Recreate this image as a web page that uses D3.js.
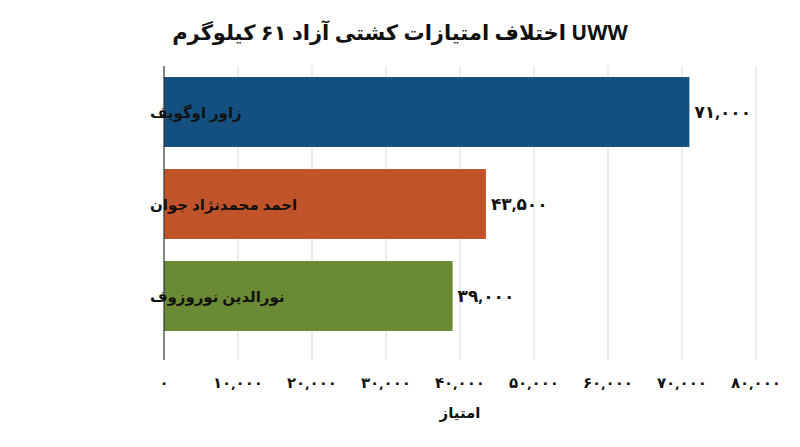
<!DOCTYPE html><html><head><meta charset="utf-8"><script src="https://cdn.jsdelivr.net/npm/d3@7"></script>
<style>body{margin:0;background:#fff}text{font-family:"Noto Sans","DejaVu Sans",sans-serif}</style></head><body><svg id="c" width="800" height="447"></svg>
<script>
const categories=["زاور اوگویف","احمد محمدنژاد جوان","نورالدین نوروزوف"];
const values=[71000,43500,39000];
const colors=["#13507f","#c0532a","#6a8a35"];
const ticks=[0,10000,20000,30000,40000,50000,60000,70000,80000];
const fa=s=>s.replace(/\d/g,d=>"۰۱۲۳۴۵۶۷۸۹"[d]);
const fmt=v=>fa(d3.format(",")(v));
const svg=d3.select("#c");
const x=d3.scaleLinear().domain([0,80000]).range([164,756]);
const y=d3.scaleBand().domain(categories).range([66,342]).paddingInner(0.24).paddingOuter(0.12);
svg.append("text").attr("x",400).attr("y",40).attr("text-anchor","middle").attr("font-size",21).attr("font-weight","bold").attr("fill","#111").text("اختلاف امتیازات کشتی آزاد ۶۱ کیلوگرم UWW");
svg.selectAll(".g").data(ticks.slice(1)).enter().append("line").attr("x1",d=>x(d)).attr("x2",d=>x(d)).attr("y1",66).attr("y2",360).attr("stroke","#d9d9d9");
svg.selectAll(".b").data(values).enter().append("rect").attr("x",x(0)).attr("y",(d,i)=>y(categories[i])).attr("width",d=>x(d)-x(0)).attr("height",y.bandwidth()).attr("fill",(d,i)=>colors[i]);
svg.append("line").attr("x1",x(0)).attr("x2",x(0)).attr("y1",66).attr("y2",360).attr("stroke","#333").attr("stroke-width",1.2);
svg.selectAll(".v").data(values).enter().append("text").attr("x",d=>x(d)+5).attr("y",(d,i)=>y(categories[i])+y.bandwidth()/2+6).attr("font-size",17).attr("font-weight","bold").attr("fill","#111").text(d=>fmt(d));
svg.selectAll(".c").data(categories).enter().append("text").attr("x",150).attr("y",d=>y(d)+y.bandwidth()/2+6).attr("text-anchor","end").attr("direction","rtl").attr("font-size",15).attr("font-weight","bold").attr("fill","#111").text(d=>d);
svg.selectAll(".t").data(ticks).enter().append("text").attr("x",d=>x(d)).attr("y",388).attr("text-anchor","middle").attr("font-size",15).attr("font-weight","bold").attr("fill","#111").text(d=>fmt(d));
svg.append("text").attr("x",460).attr("y",418).attr("text-anchor","middle").attr("font-size",15).attr("font-weight","bold").attr("fill","#111").text("امتیاز");
</script></body></html>
